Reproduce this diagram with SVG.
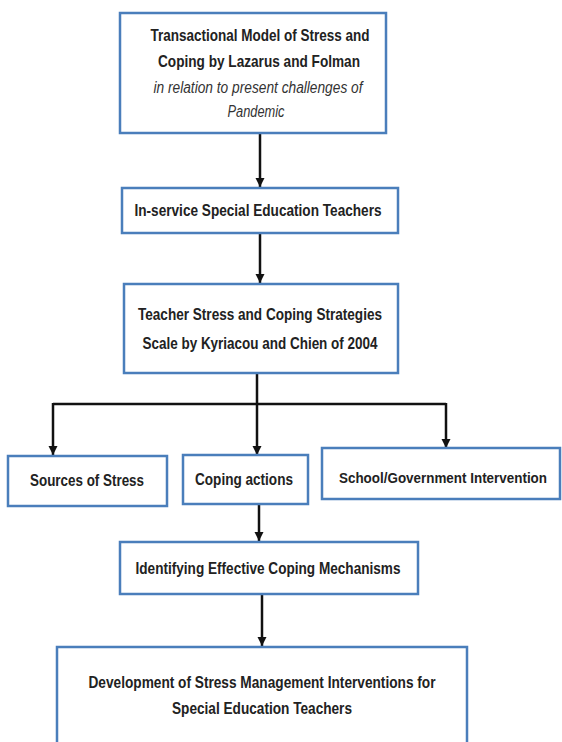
<svg xmlns="http://www.w3.org/2000/svg" width="562" height="742" viewBox="0 0 562 742">
<defs>
<style>
.box{fill:#fff;stroke:#4a7ebb;stroke-width:2.5}
.t{font-family:"Liberation Sans",Arial,sans-serif;font-weight:bold;font-size:16.5px;fill:#222;text-anchor:middle}
.i{font-family:"Liberation Sans",Arial,sans-serif;font-style:italic;font-size:16px;fill:#333;text-anchor:middle}
.c{fill:none;stroke:#111;stroke-width:2.5}
</style>
<marker id="ah" markerUnits="userSpaceOnUse" markerWidth="10" markerHeight="10" refX="9" refY="5" orient="auto">
<path d="M0,0.5 L9,5 L0,9.5 Z" fill="#111"/>
</marker>
</defs>
<rect width="562" height="742" fill="#fff"/>
<g id="connectors">
<line class="c" x1="260" y1="134" x2="260" y2="187" marker-end="url(#ah)"/>
<line class="c" x1="260" y1="233" x2="260" y2="283" marker-end="url(#ah)"/>
<path class="c" d="M257,374 V404 M53,404 H446"/>
<line class="c" x1="53" y1="403" x2="53" y2="455" marker-end="url(#ah)"/>
<line class="c" x1="257" y1="403" x2="257" y2="455" marker-end="url(#ah)"/>
<line class="c" x1="446" y1="403" x2="446" y2="448" marker-end="url(#ah)"/>
<line class="c" x1="259" y1="504" x2="259" y2="541" marker-end="url(#ah)"/>
<line class="c" x1="262" y1="594" x2="262" y2="646" marker-end="url(#ah)"/>
</g>
<g id="n1">
<rect class="box" x="120" y="13" width="266" height="120"/>
<text class="t" x="260" y="41" textLength="219" lengthAdjust="spacingAndGlyphs">Transactional Model of Stress and</text>
<text class="t" x="259" y="67" textLength="202" lengthAdjust="spacingAndGlyphs">Coping by Lazarus and Folman</text>
<text class="i" x="258" y="93" textLength="209" lengthAdjust="spacingAndGlyphs">in relation to present challenges of</text>
<text class="i" x="256" y="117" textLength="57" lengthAdjust="spacingAndGlyphs">Pandemic</text>
</g>
<g id="n2">
<rect class="box" x="122" y="188" width="276" height="45"/>
<text class="t" x="258" y="216" textLength="247" lengthAdjust="spacingAndGlyphs">In-service Special Education Teachers</text>
</g>
<g id="n3">
<rect class="box" x="124" y="284" width="274" height="89"/>
<text class="t" x="260" y="320" textLength="244" lengthAdjust="spacingAndGlyphs">Teacher Stress and Coping Strategies</text>
<text class="t" x="260" y="349" textLength="235" lengthAdjust="spacingAndGlyphs">Scale by Kyriacou and Chien of 2004</text>
</g>
<g id="n4">
<rect class="box" x="8" y="456" width="159" height="50"/>
<text class="t" x="87" y="486" textLength="114" lengthAdjust="spacingAndGlyphs">Sources of Stress</text>
</g>
<g id="n5">
<rect class="box" x="183" y="455" width="125" height="49"/>
<text class="t" x="244" y="485" textLength="98" lengthAdjust="spacingAndGlyphs">Coping actions</text>
</g>
<g id="n6">
<rect class="box" x="322" y="448" width="238" height="51"/>
<text class="t" x="443" y="483" style="font-size:14px" textLength="208" lengthAdjust="spacingAndGlyphs">School/Government Intervention</text>
</g>
<g id="n7">
<rect class="box" x="120" y="542" width="298" height="52"/>
<text class="t" x="268" y="574" textLength="265" lengthAdjust="spacingAndGlyphs">Identifying Effective Coping Mechanisms</text>
</g>
<g id="n8">
<rect class="box" x="57" y="647" width="410" height="110"/>
<text class="t" x="262" y="688" textLength="347" lengthAdjust="spacingAndGlyphs">Development of Stress Management Interventions for</text>
<text class="t" x="262" y="714" textLength="180" lengthAdjust="spacingAndGlyphs">Special Education Teachers</text>
</g>
</svg>
